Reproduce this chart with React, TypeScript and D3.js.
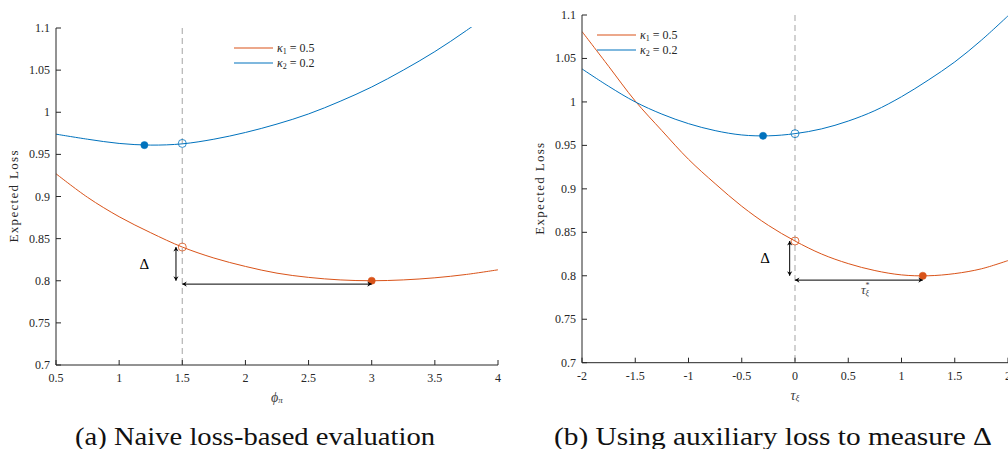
import React from 'react';
import * as d3 from 'd3';

const ORANGE = '#D95319';
const BLUE = '#0072BD';
const INK = '#262626';
const FONT = '"Liberation Serif", "Times New Roman", Times, "DejaVu Serif", "Noto Serif", serif';

// panel (a): expected loss against phi_pi
const phiGrid = [0.5, 0.75, 1, 1.25, 1.5, 1.75, 2, 2.25, 2.5, 2.75, 3, 3.25, 3.5, 3.75, 4];
const lossK1a = [0.927, 0.899, 0.876, 0.857, 0.84, 0.827, 0.817, 0.809, 0.804, 0.801, 0.8, 0.801, 0.8035, 0.8075, 0.813];
const lossK2a = [0.974, 0.968, 0.963, 0.961, 0.9625, 0.968, 0.976, 0.986, 0.998, 1.013, 1.03, 1.05, 1.072, 1.097, 1.124];
const phiTicks = [0.5, 1, 1.5, 2, 2.5, 3, 3.5, 4];

// panel (b): expected loss against tau_xi
const tauGrid = [-2, -1.75, -1.5, -1.25, -1, -0.75, -0.5, -0.25, 0, 0.25, 0.5, 0.75, 1, 1.25, 1.5, 1.75, 2];
const lossK1b = [1.081, 1.041, 1.001, 0.967, 0.934, 0.906, 0.88, 0.858, 0.84, 0.825, 0.814, 0.806, 0.801, 0.8, 0.8025, 0.808, 0.8175];
const lossK2b = [1.038, 1.018, 1.0, 0.986, 0.975, 0.967, 0.962, 0.961, 0.9635, 0.969, 0.978, 0.99, 1.006, 1.025, 1.046, 1.071, 1.099];
const tauTicks = [-2, -1.5, -1, -0.5, 0, 0.5, 1, 1.5, 2];

const lossTicks = [0.7, 0.75, 0.8, 0.85, 0.9, 0.95, 1, 1.05, 1.1];

// optima (filled) and values at the reference rule (open)
const dotsA = [
  { x: 1.2, y: 0.961, color: BLUE, filled: true },
  { x: 1.5, y: 0.963, color: BLUE, filled: false },
  { x: 1.5, y: 0.84, color: ORANGE, filled: false },
  { x: 3, y: 0.8, color: ORANGE, filled: true },
];
const dotsB = [
  { x: -0.3, y: 0.961, color: BLUE, filled: true },
  { x: 0, y: 0.9635, color: BLUE, filled: false },
  { x: 0, y: 0.84, color: ORANGE, filled: false },
  { x: 1.2, y: 0.8, color: ORANGE, filled: true },
];

type Frame = { left: number; right: number; top: number; bottom: number };

function Panel(props: {
  id: string;
  frame: Frame;
  xDomain: [number, number];
  xTicks: number[];
  grid: number[];
  k1: number[];
  k2: number[];
  dots: { x: number; y: number; color: string; filled: boolean }[];
  rule: number;
  delta: { x: number; y0: number; y1: number; lx: number; ly: number };
  shift: { y: number; x0: number; x1: number };
  legend: { x: number; y: number };
  yLabelX: number;
  xLabel: React.ReactNode;
  shiftLabel?: { x: number; y: number };
  caption: string;
  captionX: number;
  captionWidth: number;
}) {
  const { frame: f } = props;
  const x = d3.scaleLinear().domain(props.xDomain).range([f.left, f.right]);
  const y = d3.scaleLinear().domain([0.7, 1.1]).range([f.bottom, f.top]);
  const line = d3
    .line<number>()
    .x((_, i) => x(props.grid[i]))
    .y((d) => y(d))
    .curve(d3.curveCatmullRom);
  const cx = (f.left + f.right) / 2;
  const cy = (f.top + f.bottom) / 2;
  const clip = 'clip-' + props.id;

  return (
    <g style={{ fontFamily: FONT }}>
      <clipPath id={clip}>
        <rect x={f.left} y={f.top - 1} width={f.right - f.left} height={f.bottom - f.top + 1} />
      </clipPath>

      {/* reference rule */}
      <line x1={x(props.rule)} x2={x(props.rule)} y1={y(1.1)} y2={y(0.7)}
        stroke="#b4b4b4" strokeWidth={1.2} strokeDasharray="6,4" />

      <g clipPath={`url(#${clip})`} fill="none" strokeWidth={1}>
        <path d={line(props.k1) || ''} stroke={ORANGE} />
        <path d={line(props.k2) || ''} stroke={BLUE} />
      </g>

      {props.dots.map((d, i) => (
        <circle key={i} cx={x(d.x)} cy={y(d.y)} r={d.filled ? 3.6 : 4}
          fill={d.filled ? d.color : 'none'} stroke={d.color} strokeWidth={d.filled ? 0.5 : 0.8} />
      ))}

      {/* annotation arrows */}
      <line x1={x(props.delta.x)} x2={x(props.delta.x)} y1={y(props.delta.y0)} y2={y(props.delta.y1)}
        stroke="#000" strokeWidth={1} markerStart="url(#head)" markerEnd="url(#head)" />
      <line x1={x(props.shift.x0)} x2={x(props.shift.x1)} y1={y(props.shift.y)} y2={y(props.shift.y)}
        stroke="#000" strokeWidth={1} markerStart="url(#head)" markerEnd="url(#head)" />
      <text x={x(props.delta.lx)} y={y(props.delta.ly)} fontSize={15} textAnchor="middle"
        dominantBaseline="central" fill="#000">Δ</text>
      {props.shiftLabel && (
        <text x={x(props.shiftLabel.x)} y={y(props.shiftLabel.y)} fontSize={13} fill="#404040"
          textAnchor="middle" dominantBaseline="central" fontStyle="italic">
          τ<tspan fontSize={8} dy={-5} fontStyle="normal">*</tspan>
          <tspan fontSize={8} dx={-4} dy={8}>ξ</tspan>
        </text>
      )}

      {/* axes */}
      <g stroke={INK} strokeWidth={1} fill="none">
        <line x1={f.left} x2={f.right} y1={f.bottom} y2={f.bottom} />
        <line x1={f.left} x2={f.left} y1={f.top} y2={f.bottom} />
        {props.xTicks.map((t) => (
          <line key={t} x1={x(t)} x2={x(t)} y1={f.bottom} y2={f.bottom - 5} />
        ))}
        {lossTicks.map((t) => (
          <line key={t} x1={f.left} x2={f.left + 5} y1={y(t)} y2={y(t)} />
        ))}
      </g>
      <g fill={INK} fontSize={12}>
        {props.xTicks.map((t) => (
          <text key={t} x={x(t)} y={f.bottom + 13} textAnchor="middle" dominantBaseline="central">{String(t)}</text>
        ))}
        {lossTicks.map((t) => (
          <text key={t} x={f.left - 6} y={y(t)} textAnchor="end" dominantBaseline="central">{String(t)}</text>
        ))}
      </g>
      <text transform={`translate(${props.yLabelX},${cy}) rotate(-90)`} textAnchor="middle"
        dominantBaseline="central" fontSize={13} fill={INK} textLength={92}>Expected Loss</text>
      <text x={cx} y={f.bottom + 32} textAnchor="middle" dominantBaseline="central" fontSize={14}
        fill="#404040">{props.xLabel}</text>

      {/* legend */}
      <g fontSize={12} fill={INK}>
        <line x1={props.legend.x} x2={props.legend.x + 39} y1={props.legend.y} y2={props.legend.y} stroke={ORANGE} strokeWidth={1.1} />
        <line x1={props.legend.x} x2={props.legend.x + 39} y1={props.legend.y + 15} y2={props.legend.y + 15} stroke={BLUE} strokeWidth={1.1} />
        <text x={props.legend.x + 43} y={props.legend.y} dominantBaseline="central">
          <tspan fontStyle="italic">κ</tspan><tspan fontSize={8} dy={3}>1</tspan><tspan dy={-3}> = 0.5</tspan>
        </text>
        <text x={props.legend.x + 43} y={props.legend.y + 15} dominantBaseline="central">
          <tspan fontStyle="italic">κ</tspan><tspan fontSize={8} dy={3}>2</tspan><tspan dy={-3}> = 0.2</tspan>
        </text>
      </g>

      <text x={props.captionX} y={436} textAnchor="middle" dominantBaseline="central"
        fontSize={25} fill="#111" textLength={props.captionWidth} lengthAdjust="spacingAndGlyphs">
        {props.caption}
      </text>
    </g>
  );
}

export default function App() {
  return (
    <div style={{ position: 'fixed', left: 0, top: 0 }}>
      <svg width={1008} height={449} style={{ display: 'block', background: '#fff', fontFamily: FONT }}>
        <defs>
          <marker id="head" viewBox="-5 -3 6 6" refX={0} refY={0} markerWidth={6} markerHeight={6}
            markerUnits="userSpaceOnUse" orient="auto-start-reverse">
            <path d="M0,0 L-4.5,-2.6 L-3,0 L-4.5,2.6 Z" fill="#000" />
          </marker>
        </defs>
        <Panel
          id="a"
          frame={{ left: 56, right: 498, top: 28, bottom: 365 }}
          xDomain={[0.5, 4]}
          xTicks={phiTicks}
          grid={phiGrid}
          k1={lossK1a}
          k2={lossK2a}
          dots={dotsA}
          rule={1.5}
          delta={{ x: 1.45, y0: 0.84, y1: 0.8, lx: 1.2, ly: 0.82 }}
          shift={{ y: 0.796, x0: 1.5, x1: 3 }}
          legend={{ x: 234, y: 48 }}
          yLabelX={13}
          xLabel={<><tspan fontStyle="italic">ϕ</tspan><tspan fontSize={9} dy={3} fontStyle="italic">π</tspan></>}
          caption="(a) Naive loss-based evaluation"
          captionX={255}
          captionWidth={360}
        />
        <Panel
          id="b"
          frame={{ left: 582, right: 1008, top: 15, bottom: 362.7 }}
          xDomain={[-2, 2]}
          xTicks={tauTicks}
          grid={tauGrid}
          k1={lossK1b}
          k2={lossK2b}
          dots={dotsB}
          rule={0}
          delta={{ x: -0.05, y0: 0.84, y1: 0.8, lx: -0.28, ly: 0.82 }}
          shift={{ y: 0.795, x0: 0, x1: 1.2 }}
          shiftLabel={{ x: 0.66, y: 0.784 }}
          legend={{ x: 597, y: 35 }}
          yLabelX={539}
          xLabel={<><tspan fontStyle="italic">τ</tspan><tspan fontSize={9} dy={3} fontStyle="italic">ξ</tspan></>}
          caption="(b) Using auxiliary loss to measure Δ"
          captionX={773}
          captionWidth={438}
        />
      </svg>
    </div>
  );
}
